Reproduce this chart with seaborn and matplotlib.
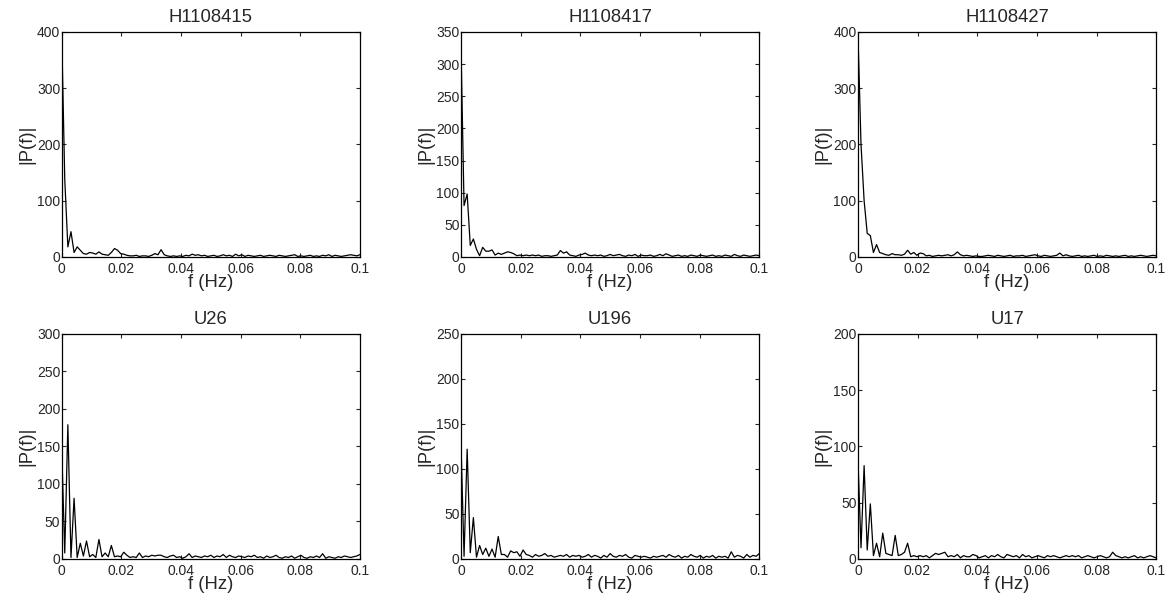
#spectrum panels for the six records

import matplotlib
matplotlib.use("Agg")
import matplotlib.pyplot as plt
import numpy as np
import seaborn as sns

#frequency step of the spectra (Hz)
df_hz = 1.0 / 960

#panel titles
titles = ["H1108415", "H1108417", "H1108427", "U26", "U196", "U17"]

#y axis upper limits and tick steps
y_max = [400, 350, 400, 300, 250, 200]
y_step = [100, 50, 100, 50, 50, 50]

#spectra
h1108415 = [400, 138, 18, 45, 8, 18, 12, 6, 5, 8,
            7, 5, 9, 5, 4, 3, 8, 15, 12, 6,
            5, 3, 2, 2, 3, 1, 2, 2, 1, 3,
            6, 4, 13, 4, 2, 1, 2, 1, 2, 1,
            3, 2, 5, 3, 4, 2, 3, 1, 2, 3,
            1, 2, 4, 2, 3, 1, 5, 2, 4, 1,
            3, 2, 1, 2, 3, 1, 2, 3, 2, 1,
            3, 2, 1, 2, 3, 4, 1, 2, 1, 2,
            3, 1, 2, 1, 3, 2, 4, 1, 3, 2,
            1, 2, 3, 4, 3, 2, 4]

h1108417 = [330, 80, 98, 18, 28, 12, 2, 15, 9, 9,
            11, 3, 6, 4, 6, 8, 7, 5, 2, 3,
            2, 3, 2, 3, 2, 3, 1, 2, 2, 1,
            2, 3, 10, 6, 8, 3, 2, 1, 3, 4,
            6, 3, 2, 3, 2, 3, 1, 2, 4, 2,
            3, 4, 2, 1, 3, 2, 4, 1, 3, 2,
            2, 3, 1, 2, 4, 2, 5, 3, 1, 2,
            3, 1, 2, 1, 3, 2, 1, 3, 2, 1,
            2, 3, 1, 2, 1, 3, 2, 1, 4, 2,
            1, 3, 2, 1, 2, 3, 2]

h1108427 = [400, 200, 100, 42, 38, 8, 22, 8, 6, 4,
            3, 6, 4, 4, 3, 5, 12, 5, 8, 3,
            7, 6, 2, 3, 1, 2, 3, 2, 3, 4,
            2, 4, 9, 4, 2, 3, 2, 1, 2, 1,
            1, 2, 3, 2, 1, 3, 2, 1, 2, 3,
            1, 2, 2, 3, 1, 2, 3, 4, 2, 1,
            3, 2, 1, 2, 3, 7, 2, 4, 2, 1,
            2, 3, 1, 2, 1, 2, 3, 1, 2, 1,
            3, 2, 1, 2, 1, 2, 3, 1, 2, 1,
            2, 3, 2, 1, 2, 3, 2]

u26 = [150, 8, 179, 2, 81, 2, 21, 4, 24, 3,
       6, 2, 26, 3, 8, 3, 18, 3, 4, 3,
       9, 5, 2, 3, 2, 8, 2, 4, 3, 5,
       4, 5, 5, 3, 2, 4, 5, 2, 3, 1,
       3, 7, 2, 4, 3, 2, 4, 3, 5, 2,
       4, 3, 6, 2, 5, 3, 2, 4, 3, 2,
       4, 3, 5, 2, 3, 1, 4, 2, 3, 5,
       2, 1, 3, 2, 4, 1, 3, 5, 2, 1,
       3, 2, 4, 2, 7, 1, 3, 2, 1, 3,
       2, 4, 3, 2, 3, 4, 6]

u196 = [130, 3, 122, 7, 46, 2, 15, 5, 12, 3,
        11, 2, 25, 5, 5, 2, 9, 7, 8, 3,
        10, 5, 4, 2, 5, 3, 4, 6, 3, 4,
        2, 3, 4, 3, 5, 2, 4, 3, 4, 2,
        3, 5, 2, 4, 3, 1, 4, 2, 6, 3,
        2, 4, 3, 5, 2, 1, 4, 3, 2, 3,
        2, 1, 3, 2, 3, 4, 2, 5, 3, 2,
        4, 1, 3, 2, 5, 3, 2, 4, 1, 3,
        2, 4, 1, 3, 2, 3, 1, 8, 2, 4,
        3, 1, 5, 2, 4, 3, 6]

u17 = [90, 10, 83, 8, 49, 3, 14, 2, 23, 5,
       4, 3, 21, 3, 4, 6, 14, 2, 3, 2,
       3, 2, 3, 1, 3, 5, 4, 5, 6, 2,
       3, 2, 4, 1, 3, 2, 2, 4, 3, 1,
       2, 3, 1, 3, 2, 4, 2, 1, 4, 3,
       2, 3, 1, 4, 2, 3, 1, 2, 3, 2,
       1, 3, 2, 3, 2, 1, 2, 3, 2, 3,
       2, 3, 1, 2, 3, 2, 1, 2, 3, 2,
       1, 2, 6, 3, 2, 1, 2, 1, 2, 3,
       1, 2, 1, 2, 3, 2, 1]

spectra = [h1108415, h1108417, h1108427, u26, u196, u17]

#x ticks
x_ticks = [0, 0.02, 0.04, 0.06, 0.08, 0.1]
x_tick_labels = ["0", "0.02", "0.04", "0.06", "0.08", "0.1"]

sns.set_style("ticks")
plt.rcParams['font.family'] = ['Liberation Sans', 'DejaVu Sans']

fig = plt.figure(figsize=(11.72, 6.01), dpi=100)

#axes positions in figure fractions
lefts = [0.0526, 0.3933, 0.732]
bottoms = [0.5724, 0.0699]
width = 0.2545
height = 0.3744

for i, vals in enumerate(spectra):
    row = i // 3
    col = i % 3
    ax = fig.add_axes([lefts[col], bottoms[row], width, height])

    #frequency grid for this spectrum
    freq = np.arange(len(vals)) * df_hz

    sns.lineplot(x=freq, y=vals, ax=ax, color="black", linewidth=0.9)

    ax.set_xlim(0, 0.1)
    ax.set_ylim(0, y_max[i])
    ax.set_xticks(x_ticks)
    ax.set_xticklabels(x_tick_labels)
    ax.set_yticks(np.arange(0, y_max[i] + 1, y_step[i]))

    ax.tick_params(direction="in", top=True, right=True, labelsize=10,
                   length=3, width=0.8)
    ax.tick_params(axis="x", pad=3.5)
    ax.tick_params(axis="y", pad=1)
    for spine in ax.spines.values():
        spine.set_linewidth(0.9)
        spine.set_color("black")

    ax.set_title(titles[i], fontsize=13.3, pad=7)
    ax.set_xlabel("f (Hz)", fontsize=13.3, labelpad=-1)
    ax.set_ylabel("|P(f)|", fontsize=13.3, labelpad=1)

plt.savefig("out.png", dpi=100)
